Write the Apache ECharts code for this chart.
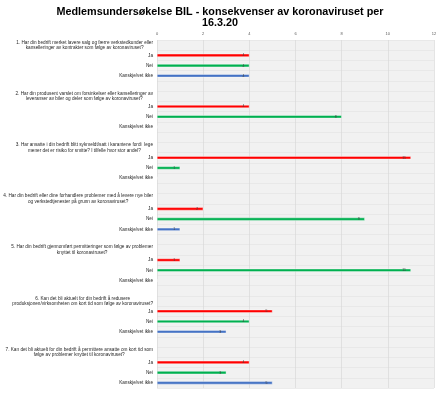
<!DOCTYPE html>
<html><head><meta charset="utf-8">
<script src="https://cdn.jsdelivr.net/npm/echarts@6/dist/echarts.min.js"></script>
<style>html,body{margin:0;padding:0;background:#fff}#c{width:440px;height:393px}</style>
</head><body><div id="c"></div>
<script>
const titleText = 'Medlemsundersøkelse BIL - konsekvenser av koronaviruset per\n16.3.20';
const questions = [
  '1. Har din bedrift merket lavere salg og færre verkstedkunder eller\nkanselleringer av kontrakter som følge av koronaviruset?',
  '2. Har din produsent varslet om forsinkelser eller kanselleringer av\nleveranser av biler og deler som følge av koronaviruset?',
  '3. Har ansatte i din bedrift blitt sykmeldt/satt i karantene fordi  lege\nmener det er risiko for smitte? I tilfelle hvor stor andel?',
  '4. Har din bedrift eller dine forhandlere problemer med å levere nye biler\nog verkstedtjenester på grunn av koronaviruset?',
  '5. Har din bedrift gjennomført permitteringer som følge av problemer\nknyttet til koronaviruset?',
  '6. Kan det bli aktuelt for din bedrift å redusere\nproduksjonen/virksomheten om kort tid som følge av koronaviruset?',
  '7. Kan det bli aktuelt for din bedrift å permittere ansatte om kort tid som\nfølge av problemer knyttet til koronaviruset?'
];
const answers = ['Ja', 'Nei', 'Kanskje/vet ikke'];
const ja = [4, 4, 11, 2, 1, 5, 4];
const nei = [4, 8, 1, 9, 11, 4, 3];
const kanskje = [4, 0, 0, 1, 0, 3, 5];
const xMin = 0, xMax = 12, xStep = 2;
const colors = ['#ff0000', '#00b050', '#4472c4'];

const cats = [];
const isQ = [];
const sData = [[], [], []];
const vals = [ja, nei, kanskje];
questions.forEach((q, i) => {
  cats.push(q); isQ.push(true); sData.forEach(d => d.push(null));
  answers.forEach((a, k) => {
    cats.push(a); isQ.push(false);
    sData.forEach((d, s) => d.push(s === k ? vals[s][i] : null));
  });
  if (i < questions.length - 1) {
    cats.push(''); isQ.push(false); sData.forEach(d => d.push(null));
  }
});

const chart = echarts.init(document.getElementById('c'), null, {renderer: 'canvas'});
const lblFont = '"Liberation Sans", Arial, sans-serif';
chart.setOption({
  backgroundColor: '#fff',
  animation: false,
  title: {
    text: titleText, left: 'center', top: 2,
    textStyle: {fontFamily: lblFont, fontSize: 10.8, fontWeight: 'bold', color: '#000', lineHeight: 11}
  },
  grid: {left: 157, right: 6, top: 40, bottom: 5, show: true, backgroundColor: '#f1f1f1', borderWidth: 0},
  xAxis: {
    type: 'value', position: 'top', min: xMin, max: xMax, interval: xStep,
    axisLine: {show: false}, axisTick: {show: false},
    axisLabel: {fontSize: 4, color: '#595959', margin: 4, fontFamily: lblFont},
    splitLine: {lineStyle: {color: '#d9d9d9', width: 0.7}}
  },
  yAxis: {
    type: 'category', inverse: true, data: cats,
    axisLine: {show: false}, axisTick: {show: false},
    splitLine: {show: true, lineStyle: {color: '#e4e4e4', width: 0.7}},
    axisLabel: {
      interval: 0, fontSize: 4.7, color: '#262626', margin: 4, fontFamily: lblFont,
      formatter: (v, idx) => isQ[idx] ? v.split('\n').map(l => '{q|' + l + '}').join('\n') : v,
      rich: {q: {align: 'center', fontSize: 4.7, lineHeight: 5.5, fontFamily: lblFont, color: '#262626'}}
    }
  },
  series: sData.map((d, s) => ({
    type: 'bar', name: answers[s], stack: 'all', data: d, barWidth: 3,
    itemStyle: {color: colors[s], borderColor: '#ffffff', borderWidth: 0.4},
    label: {
      show: true, position: 'insideRight', fontSize: 3.5, color: '#404040', offset: [0, 0],
      formatter: p => (p.value ? String(p.value) : '')
    }
  }))
});
</script></body></html>
